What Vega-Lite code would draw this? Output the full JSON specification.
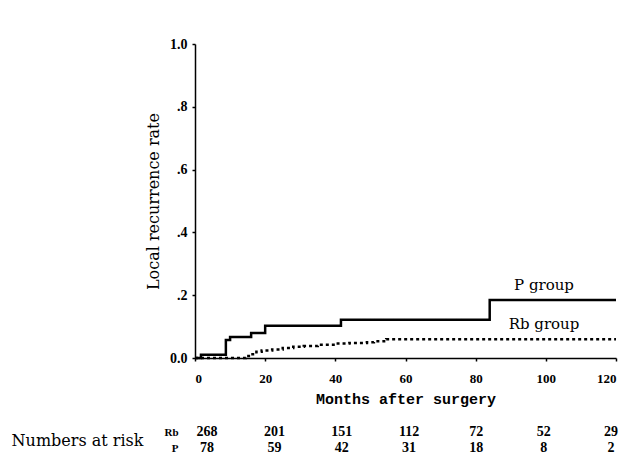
{
  "$schema": "https://vega.github.io/schema/vega-lite/v6.json",
  "background": "white",
  "padding": {"left": 11, "top": 37, "right": 2, "bottom": 0},
  "config": {
    "view": {"stroke": null},
    "axis": {
      "domainColor": "black", "domainWidth": 1.5, "tickColor": "black", "tickSize": 3, "tickWidth": 1.5,
      "labelColor": "black", "titleColor": "black", "grid": false,
      "labelFont": "Liberation Serif", "labelFontSize": 13, "labelFontWeight": "bold"
    }
  },
  "datasets": {
    "curves": [
      {"group": "P", "month": 0, "rate": 0},
      {"group": "P", "month": 1.7, "rate": 0.01},
      {"group": "P", "month": 8.8, "rate": 0.057},
      {"group": "P", "month": 10, "rate": 0.067},
      {"group": "P", "month": 16, "rate": 0.08},
      {"group": "P", "month": 20, "rate": 0.103},
      {"group": "P", "month": 41.6, "rate": 0.122},
      {"group": "P", "month": 84, "rate": 0.185},
      {"group": "P", "month": 120, "rate": 0.185},
      {"group": "Rb", "month": 0, "rate": 0},
      {"group": "Rb", "month": 14.5, "rate": 0.006},
      {"group": "Rb", "month": 16, "rate": 0.012},
      {"group": "Rb", "month": 17.5, "rate": 0.02},
      {"group": "Rb", "month": 19, "rate": 0.024},
      {"group": "Rb", "month": 22, "rate": 0.027},
      {"group": "Rb", "month": 25, "rate": 0.032},
      {"group": "Rb", "month": 28, "rate": 0.036},
      {"group": "Rb", "month": 31, "rate": 0.038},
      {"group": "Rb", "month": 35, "rate": 0.042},
      {"group": "Rb", "month": 40, "rate": 0.046},
      {"group": "Rb", "month": 44, "rate": 0.048},
      {"group": "Rb", "month": 49, "rate": 0.05},
      {"group": "Rb", "month": 51, "rate": 0.053},
      {"group": "Rb", "month": 54.5, "rate": 0.06},
      {"group": "Rb", "month": 120, "rate": 0.06}
    ],
    "risk": [
      {"group": "Rb", "month": 0, "n": 268},
      {"group": "Rb", "month": 20, "n": 201},
      {"group": "Rb", "month": 40, "n": 151},
      {"group": "Rb", "month": 60, "n": 112},
      {"group": "Rb", "month": 80, "n": 72},
      {"group": "Rb", "month": 100, "n": 52},
      {"group": "Rb", "month": 120, "n": 29},
      {"group": "P", "month": 0, "n": 78},
      {"group": "P", "month": 20, "n": 59},
      {"group": "P", "month": 40, "n": 42},
      {"group": "P", "month": 60, "n": 31},
      {"group": "P", "month": 80, "n": 18},
      {"group": "P", "month": 100, "n": 8},
      {"group": "P", "month": 120, "n": 2}
    ]
  },
  "spacing": 18,
  "vconcat": [
    {
      "width": 421,
      "height": 314,
      "data": {"name": "curves"},
      "layer": [
        {
          "mark": {"type": "line", "interpolate": "step-after", "color": "black", "strokeWidth": 2.5},
          "encoding": {
            "x": {"field": "month", "type": "quantitative",
                  "scale": {"domain": [0, 120], "nice": false},
                  "axis": {"values": [0, 20, 40, 60, 80, 100, 120], "title": "Months after surgery",
                           "titleFont": "Liberation Mono", "titleFontSize": 15, "titleFontWeight": "bold", "titlePadding": 6,
                           "labelPadding": 11}},
            "y": {"field": "rate", "type": "quantitative",
                  "scale": {"domain": [0, 1], "nice": false},
                  "axis": {"values": [0, 0.2, 0.4, 0.6, 0.8, 1.0], "title": "Local recurrence rate",
                           "labelExpr": "datum.value == 0 ? '0.0' : datum.value == 1 ? '1.0' : replace(format(datum.value, '.1f'), '0.', '.')",
                           "labelFontSize": 14,
                           "titleFont": "DejaVu Serif", "titleFontSize": 16, "titleFontWeight": "normal", "titlePadding": 8,
                           "titleLimit": 400, "labelPadding": 5}},
            "detail": {"field": "group"},
            "strokeDash": {"field": "group", "type": "nominal",
                           "scale": {"domain": ["P", "Rb"], "range": [[1, 0], [3, 3]]}, "legend": null}
          }
        },
        {
          "transform": [
            {"filter": "datum.month == 120"},
            {"calculate": "datum.group + ' group'", "as": "label"}
          ],
          "mark": {"type": "text", "font": "DejaVu Serif", "fontSize": 15, "color": "black", "align": "center", "baseline": "middle", "dx": -72, "dy": -15},
          "encoding": {
            "x": {"field": "month", "type": "quantitative"},
            "y": {"field": "rate", "type": "quantitative"},
            "text": {"field": "label"}
          }
        }
      ]
    },
    {
      "width": 421,
      "height": 32,
      "data": {"name": "risk"},
      "mark": {"type": "text", "font": "Liberation Serif", "fontSize": 14, "fontWeight": "bold", "color": "black", "align": "center", "baseline": "middle"},
      "encoding": {
        "x": {"field": "month", "type": "quantitative", "scale": {"domain": [-3.6, 121.5], "nice": false, "zero": false}, "axis": null},
        "y": {"field": "group", "type": "nominal", "sort": ["Rb", "P"],
              "scale": {"type": "point", "padding": 0.5},
              "axis": {"domain": false, "ticks": false, "labelPadding": 17, "labelFontSize": 11,
                       "title": "Numbers at risk", "titleAngle": 0, "titleAlign": "right", "titleFont": "DejaVu Serif", "titleFontSize": 16,
                       "titleFontWeight": "normal", "titlePadding": 21, "titleBaseline": "middle"}},
        "text": {"field": "n", "type": "quantitative"}
      }
    }
  ]
}
